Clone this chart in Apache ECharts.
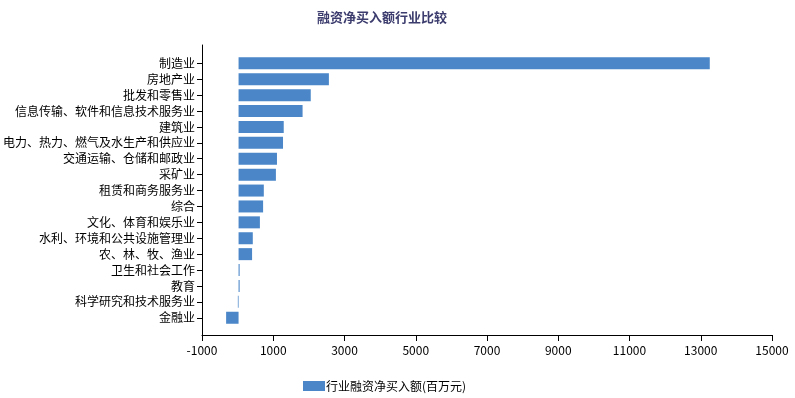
<!DOCTYPE html>
<html>
<head>
<meta charset="utf-8">
<script src="https://cdn.jsdelivr.net/npm/echarts@6/dist/echarts.min.js"></script>
<style>
  html, body { margin: 0; padding: 0; background: #fff; }
  #chart { width: 795px; height: 398px; }
</style>
</head>
<body>
<div id="chart"></div>
<script>
// 行业分类
const industries = [
  '制造业', '房地产业', '批发和零售业', '信息传输、软件和信息技术服务业', '建筑业',
  '电力、热力、燃气及水生产和供应业', '交通运输、仓储和邮政业', '采矿业', '租赁和商务服务业',
  '综合', '文化、体育和娱乐业', '水利、环境和公共设施管理业', '农、林、牧、渔业',
  '卫生和社会工作', '教育', '科学研究和技术服务业', '金融业'
]
// 融资净买入额(百万元)
const netBuy = [
  13250, 2540, 2030, 1800, 1270, 1250, 1080, 1050, 710,
  690, 600, 400, 380, 30, 30, -20, -350
]
const xMin = -1000
const xMax = 15000
const xStep = 2000
const seriesName = '行业融资净买入额(百万元)'

const chart = echarts.init(document.getElementById('chart'), null, { renderer: 'canvas' })
const font = 'Noto Sans CJK SC'

chart.setOption({
  animation: false,
  title: {
    text: '融资净买入额行业比较',
    left: 377, top: 6, textAlign: 'center',
    textStyle: { fontSize: 13, fontWeight: 'bold', color: '#3c3c6e', fontFamily: font }
  },
  legend: {
    data: [seriesName],
    left: 298, top: 375,
    itemWidth: 22, itemHeight: 10, itemGap: 0,
    icon: 'rect',
    textStyle: { fontSize: 12, color: '#000', fontFamily: font, padding: [0, 0, 0, -4] }
  },
  grid: [
    // 柱子区域
    { left: 202, right: 23, top: 55.4, height: 270.3, containLabel: false },
    // 坐标轴区域
    { left: 202, right: 23, top: 45, bottom: 63, containLabel: false }
  ],
  xAxis: [
    { gridIndex: 0, type: 'value', min: xMin, max: xMax, interval: xStep, show: false },
    {
      gridIndex: 1, type: 'value', min: xMin, max: xMax, interval: xStep,
      axisLine: { show: true, onZero: false, lineStyle: { color: '#000', width: 1 } },
      axisTick: { show: true, length: 6, lineStyle: { color: '#000' } },
      axisLabel: { color: '#000', fontSize: 12, fontFamily: font, margin: 9, formatter: v => String(v) },
      splitLine: { show: false }
    }
  ],
  yAxis: [
    {
      gridIndex: 0, type: 'category', data: industries, inverse: true,
      axisLine: { show: false, onZero: false },
      axisTick: { show: true, alignWithLabel: true, length: 6, lineStyle: { color: '#000' } },
      axisLabel: { color: '#000', fontSize: 12, fontFamily: font, margin: 8, interval: 0 }
    },
    {
      gridIndex: 1, type: 'value', min: 0, max: 1,
      axisLine: { show: true, onZero: false, lineStyle: { color: '#000', width: 1 } },
      axisTick: { show: false }, axisLabel: { show: false }, splitLine: { show: false }
    }
  ],
  series: [{
    name: seriesName,
    type: 'bar',
    xAxisIndex: 0, yAxisIndex: 0,
    data: netBuy,
    barWidth: 12,
    itemStyle: { color: '#4a86c8' }
  }]
})
</script>
</body>
</html>
